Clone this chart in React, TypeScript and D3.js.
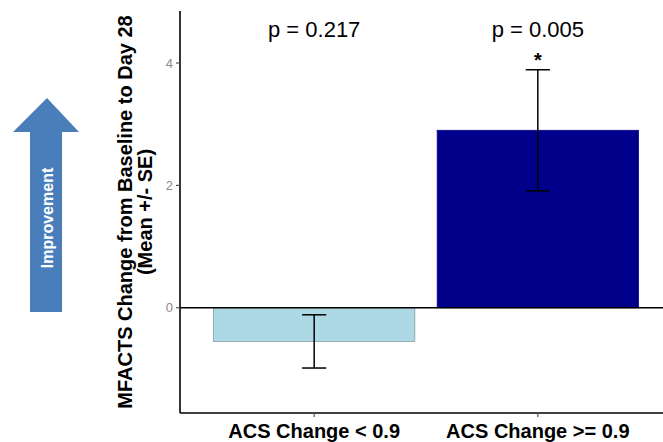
import React from "react";
import * as d3 from "d3";

const categories = ["ACS Change < 0.9", "ACS Change >= 0.9"];
const means = [-0.55, 2.9];
const ses = [0.435, 0.99];
const barColors = ["#add8e6", "#00008b"];
const pLabels = ["p = 0.217", "p = 0.005"];
const pLabelY = [4.54, 4.54];
const starLabels = ["", "*"];
const starY = [4.13, 4.13];
const yTicks = [0, 2, 4];

const width = 663;
const height = 442;
const font = "'Liberation Sans', Arial, sans-serif";

export default function App() {
  const left = 180;
  const top = 11;
  const bottom = 413;
  const panelRight = 672;

  const x = d3
    .scaleBand<string>()
    .domain(categories)
    .range([left, panelRight])
    .paddingInner(0.1)
    .paddingOuter(0.15);

  const y = d3.scaleLinear().domain([-1.72, 4.85]).range([bottom, top]);
  const capW = x.step() * 0.108;

  // office-style arrow on the left
  const arrow = d3.path();
  arrow.moveTo(30, 312);
  arrow.lineTo(30, 132);
  arrow.lineTo(13, 132);
  arrow.lineTo(47, 98);
  arrow.lineTo(79, 132);
  arrow.lineTo(62, 132);
  arrow.lineTo(62, 312);
  arrow.closePath();

  return (
    <svg
      width={width}
      height={height}
      style={{ position: "absolute", left: 0, top: 0, background: "#fff" }}
      fontFamily={font}
    >
      <path d={arrow.toString()} fill="#4a7ebb" />
      <text
        transform="translate(47,218) rotate(-90)"
        textAnchor="middle"
        dominantBaseline="central"
        fill="#fff"
        fontWeight="bold"
        fontSize={16}
      >
        Improvement
      </text>

      {/* y axis title */}
      <text
        transform={`translate(132,${(top + bottom) / 2}) rotate(-90)`}
        textAnchor="middle"
        fontWeight="bold"
        fontSize={20}
        fill="#000"
      >
        MFACTS Change from Baseline to Day 28
      </text>
      <text
        transform={`translate(152,${(top + bottom) / 2}) rotate(-90)`}
        textAnchor="middle"
        fontWeight="bold"
        fontSize={20}
        fill="#000"
      >
        (Mean +/- SE)
      </text>

      {/* bars */}
      {categories.map((c, i) => (
        <rect
          key={c}
          x={x(c)}
          width={x.bandwidth()}
          y={Math.min(y(0), y(means[i]))}
          height={Math.abs(y(means[i]) - y(0))}
          fill={barColors[i]}
          stroke={i === 0 ? "#8a9aa0" : barColors[i]}
          strokeWidth={0.8}
        />
      ))}

      {/* zero line */}
      <line x1={left} x2={width} y1={y(0)} y2={y(0)} stroke="#000" strokeWidth={1.5} />

      {/* error bars */}
      {categories.map((c, i) => {
        const cx = (x(c) ?? 0) + x.bandwidth() / 2;
        const lo = y(means[i] - ses[i]);
        const hi = y(means[i] + ses[i]);
        return (
          <g key={c} stroke="#000" strokeWidth={1.5}>
            <line x1={cx} x2={cx} y1={lo} y2={hi} />
            <line x1={cx - capW / 2} x2={cx + capW / 2} y1={lo} y2={lo} />
            <line x1={cx - capW / 2} x2={cx + capW / 2} y1={hi} y2={hi} />
          </g>
        );
      })}

      {/* p values and star */}
      {categories.map((c, i) => {
        const cx = (x(c) ?? 0) + x.bandwidth() / 2;
        return (
          <g key={c}>
            <text
              x={cx}
              y={y(pLabelY[i])}
              textAnchor="middle"
              dominantBaseline="central"
              fontSize={22}
              fill="#000"
            >
              {pLabels[i]}
            </text>
            <text
              x={cx}
              y={y(starY[i]) + 11.5}
              textAnchor="middle"
              fontSize={20}
              fontWeight="bold"
              fill="#000"
            >
              {starLabels[i]}
            </text>
          </g>
        );
      })}

      {/* axes */}
      <line x1={left} x2={left} y1={top} y2={bottom} stroke="#000" strokeWidth={1.6} />
      <line x1={left} x2={width} y1={bottom} y2={bottom} stroke="#000" strokeWidth={1.6} />
      {yTicks.map((t) => (
        <g key={t}>
          <line x1={left - 4} x2={left} y1={y(t)} y2={y(t)} stroke="#555" strokeWidth={1.2} />
          <text
            x={left - 7}
            y={y(t)}
            textAnchor="end"
            dominantBaseline="central"
            fontSize={13}
            fill="#8a8a8a"
          >
            {t}
          </text>
        </g>
      ))}
      {categories.map((c) => {
        const cx = (x(c) ?? 0) + x.bandwidth() / 2;
        return (
          <g key={c}>
            <line x1={cx} x2={cx} y1={bottom} y2={bottom + 4} stroke="#555" strokeWidth={1.2} />
            <text
              x={cx}
              y={bottom + 25}
              textAnchor="middle"
              fontSize={20}
              fontWeight="bold"
              fill="#000"
            >
              {c}
            </text>
          </g>
        );
      })}
    </svg>
  );
}
